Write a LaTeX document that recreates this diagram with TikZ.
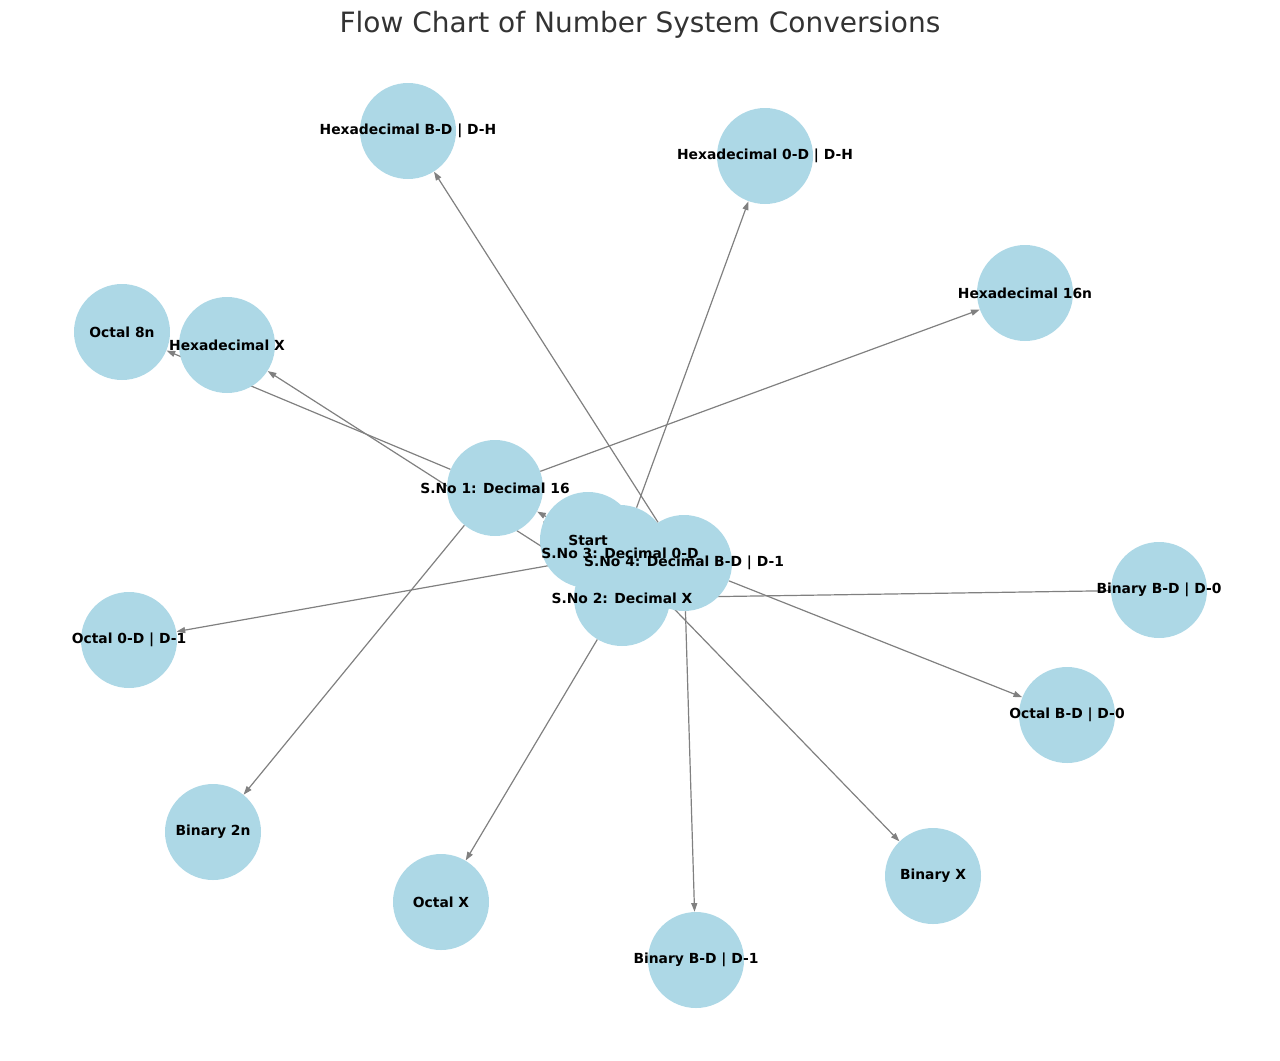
\documentclass[tikz,border=0pt]{standalone}
\usepackage{fontspec}
\setmainfont{DejaVu Sans}
\usetikzlibrary{arrows.meta,backgrounds}
\definecolor{nodeblue}{HTML}{ADD8E6}
\definecolor{edgegray}{HTML}{808080}
\definecolor{titlegray}{HTML}{333333}
\begin{document}
\begin{tikzpicture}[x=0.75pt,y=-0.75pt,
  nd/.style={circle,fill=nodeblue,minimum size=72pt,inner sep=0pt,text=black},
  lbl/.style={font=\bfseries\fontsize{10.4pt}{11pt}\selectfont,text=black},
  ed/.style={draw=edgegray,line width=0.9pt,-{Triangle[length=6.5pt,width=4.5pt]}}]
\useasboundingbox (0,0) rectangle (1280,1060);
\node[font=\fontsize{21pt}{24pt}\selectfont,text=titlegray] (title) at (640,25) {Flow Chart of Number System Conversions};
\node[nd] (hbdh) at (408,131) {};
\node[nd] (h0dh) at (765,156) {};
\node[nd] (h16) at (1025,293) {};
\node[nd] (o8) at (122,332) {};
\node[nd] (hx) at (227,345) {};
\node[nd] (o0d) at (129,640) {};
\node[nd] (bbd0) at (1159,590) {};
\node[nd] (obd0) at (1067,715) {};
\node[nd] (b2) at (213,832) {};
\node[nd] (ox) at (441,902) {};
\node[nd] (bbd1) at (696,960) {};
\node[nd] (bx) at (933,876) {};
\node[nd] (s1) at (495,488) {};
\node[nd] (st) at (588,540) {};
\node[nd] (s3) at (620,553) {};
\node[nd] (s4) at (684,563) {};
\node[nd] (s2) at (622,598) {};
\foreach \n/\t in {hbdh/Hexadecimal B-D | D-H, h0dh/Hexadecimal 0-D | D-H, h16/Hexadecimal 16n, o8/Octal 8n, hx/Hexadecimal X, o0d/Octal 0-D | D-1, bbd0/Binary B-D | D-0, obd0/Octal B-D | D-0, b2/Binary 2n, ox/Octal X, bbd1/Binary B-D | D-1, bx/Binary X, s1/S.No 1: Decimal 16, st/Start, s3/S.No 3: Decimal 0-D, s4/S.No 4: Decimal B-D | D-1, s2/S.No 2: Decimal X}
  {\node[lbl] at (\n) {\t};}
\begin{pgfonlayer}{background}
\draw[ed] (st) -- (s1);
\draw[ed] (st) -- (s2);
\draw[ed] (st) -- (s3);
\draw[ed] (st) -- (s4);
\draw[ed] (s1) -- (o8);
\draw[ed] (s1) -- (h16);
\draw[ed] (s1) -- (b2);
\draw[ed] (s2) -- (hx);
\draw[ed] (s2) -- (ox);
\draw[ed] (bbd0) -- (s2);
\draw[ed] (s3) -- (h0dh);
\draw[ed] (s3) -- (o0d);
\draw[ed] (s3) -- (bx);
\draw[ed] (s4) -- (hbdh);
\draw[ed] (s4) -- (obd0);
\draw[ed] (s4) -- (bbd1);
\end{pgfonlayer}
\end{tikzpicture}
\end{document}
